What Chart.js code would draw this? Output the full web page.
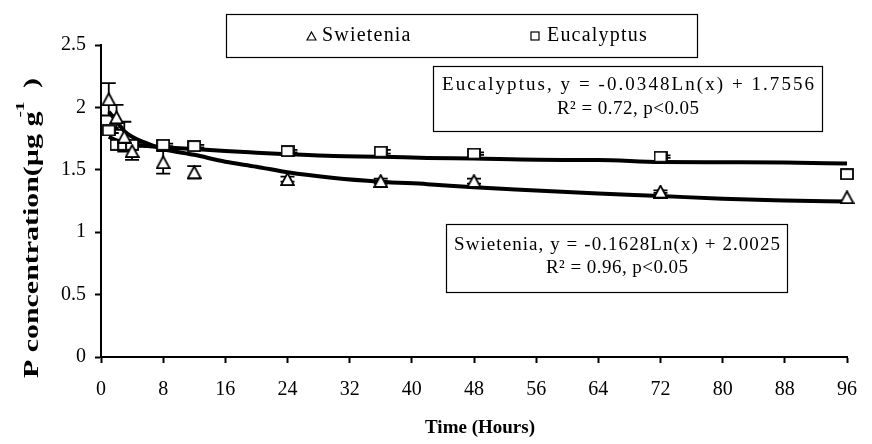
<!DOCTYPE html>
<html><head><meta charset="utf-8">
<script src="https://cdn.jsdelivr.net/npm/chart.js@4.4.0/dist/chart.umd.min.js"></script>
<style>html,body{margin:0;padding:0;background:#fff}#wrap{width:872px;height:444px}</style>
</head><body><div id="wrap"><canvas id="c" width="872" height="444"></canvas></div>
<script>
// ---- data ----
const hours = [1, 2, 3, 4, 8, 12, 24, 36, 48, 72, 96];
const swietenia = [2.065, 1.92, 1.765, 1.65, 1.56, 1.48, 1.425, 1.41, 1.41, 1.325, 1.28];
const swieteniaErr = [0.13, 0.10, 0.12, 0.07, 0.09, 0.05, 0.02, 0.02, 0.02, 0.01, 0];
const eucalyptus = [1.815, 1.70, 1.70, 1.70, 1.70, 1.69, 1.65, 1.645, 1.63, 1.605, 1.465];
const eucalyptusErr = [0.02, 0.015, 0.02, 0.015, 0.01, 0.01, 0.01, 0.015, 0.01, 0.01, 0];
const trendHours = [1, 2, 3, 4, 6, 8, 12, 16, 20, 24, 30, 36, 42, 48, 56, 64, 72, 80, 88, 96];
const swieteniaTrend = [1.965, 1.89, 1.81, 1.765, 1.71, 1.667, 1.62, 1.565, 1.525, 1.48, 1.435, 1.405, 1.385, 1.36, 1.335, 1.31, 1.29, 1.268, 1.255, 1.245];
const eucalyptusTrend = [1.765, 1.735, 1.715, 1.70, 1.69, 1.68, 1.667, 1.65, 1.637, 1.625, 1.61, 1.605, 1.595, 1.59, 1.58, 1.578, 1.562, 1.56, 1.558, 1.55];
const xTicks = [0, 8, 16, 24, 32, 40, 48, 56, 64, 72, 80, 88, 96];
const yTicks = [0, 0.5, 1, 1.5, 2, 2.5];
const yTickLabels = ['0', '0.5', '1', '1.5', '2', '2.5'];
const seriesNames = ['Swietenia', 'Eucalyptus'];
const eqText = {
  Eucalyptus: ['Eucalyptus, y = -0.0348Ln(x) + 1.7556', 'R\u00B2 = 0.72, p<0.05'],
  Swietenia: ['Swietenia, y = -0.1628Ln(x) + 2.0025', 'R\u00B2 = 0.96, p<0.05']
};
const xTitle = 'Time (Hours)';
const yTitleMain = 'P concentration(\u00B5g g';
const yTitleSup = '-1';
const yTitleEnd = ' )';

// ---- marker images ----
function triImg(w, h, lw) {
  const c = document.createElement('canvas'); c.width = w; c.height = h;
  const g = c.getContext('2d');
  g.beginPath(); g.moveTo(w / 2, 1); g.lineTo(w - 1, h - 1); g.lineTo(1, h - 1); g.closePath();
  g.fillStyle = '#fff'; g.fill(); g.lineWidth = lw; g.strokeStyle = '#000'; g.stroke();
  return c;
}
function sqImg(w, h, lw) {
  const c = document.createElement('canvas'); c.width = w; c.height = h;
  const g = c.getContext('2d');
  g.fillStyle = '#fff'; g.fillRect(1, 1, w - 2, h - 2);
  g.lineWidth = lw; g.strokeStyle = '#000'; g.strokeRect(1, 1, w - 2, h - 2);
  return c;
}
const TRI = triImg(15, 14, 1.8);
const SQ = sqImg(14, 12, 1.8);

const pts = (xs, ys) => xs.map((x, i) => ({ x: x, y: ys[i] }));
const SERIF = '"Liberation Serif", "Times New Roman", serif';

function fitText(ctx, text, x, y, width, align) {
  ctx.save();
  ctx.letterSpacing = '0px';
  const w0 = ctx.measureText(text).width;
  const n = Math.max(1, text.length - 1);
  const ls = Math.max(0, (width - w0) / n);
  ctx.letterSpacing = ls + 'px';
  ctx.textAlign = 'left';
  const w = w0 + ls * n;
  let sx = x;
  if (align === 'center') sx = x - w / 2;
  ctx.fillText(text, sx, y);
  ctx.restore();
}
function spacedText(ctx, text, x, y, ls) {
  ctx.save();
  ctx.letterSpacing = ls + 'px';
  ctx.textAlign = 'left';
  ctx.fillText(text, x, y);
  ctx.restore();
}

const errorBars = {
  id: 'errorBars',
  beforeDatasetsDraw(chart) {
    const ctx = chart.ctx, xs = chart.scales.x, ys = chart.scales.y;
    ctx.save(); ctx.strokeStyle = '#000'; ctx.lineWidth = 1.8;
    hours.forEach((h, i) => {
      const px = xs.getPixelForValue(h);
      if (swieteniaErr[i] > 0) {
        const t = ys.getPixelForValue(swietenia[i] + swieteniaErr[i]);
        const b = ys.getPixelForValue(swietenia[i] - swieteniaErr[i]);
        ctx.beginPath(); ctx.moveTo(px, t); ctx.lineTo(px, b);
        ctx.moveTo(px - 7, t); ctx.lineTo(px + 7, t);
        ctx.moveTo(px - 7, b); ctx.lineTo(px + 7, b); ctx.stroke();
      }
      if (eucalyptusErr[i] > 0) {
        const t = ys.getPixelForValue(eucalyptus[i] + eucalyptusErr[i]);
        const b = ys.getPixelForValue(eucalyptus[i] - eucalyptusErr[i]);
        ctx.beginPath(); ctx.moveTo(px, t); ctx.lineTo(px, b);
        ctx.moveTo(px - 4, t); ctx.lineTo(px + 10, t);
        ctx.moveTo(px - 4, b); ctx.lineTo(px + 10, b); ctx.stroke();
      }
    });
    ctx.restore();
  }
};

const decorations = {
  id: 'decorations',
  beforeDraw(chart) {
    const ctx = chart.ctx;
    ctx.save(); ctx.fillStyle = '#fff'; ctx.fillRect(0, 0, chart.width, chart.height); ctx.restore();
  },
  afterDraw(chart) {
    const ctx = chart.ctx;
    ctx.save();
    ctx.fillStyle = '#000'; ctx.strokeStyle = '#000';
    // legend box
    ctx.lineWidth = 1.2;
    ctx.strokeRect(226.5, 14.5, 471, 43);
    ctx.font = '20px ' + SERIF; ctx.textBaseline = 'middle';
    ctx.drawImage(triImg(11, 10, 1.2), 306, 31);
    spacedText(ctx, seriesNames[0], 322, 36, 1.2);
    ctx.drawImage(sqImg(10, 10, 1.2), 530, 31);
    spacedText(ctx, seriesNames[1], 547, 36, 1.2);
    // equation boxes
    ctx.strokeRect(433.5, 66.5, 389, 65);
    ctx.font = '19px ' + SERIF;
    fitText(ctx, eqText.Eucalyptus[0], 628, 85, 372, 'center');
    fitText(ctx, eqText.Eucalyptus[1], 628, 109, 142, 'center');
    ctx.strokeRect(446.5, 224.5, 341, 68);
    fitText(ctx, eqText.Swietenia[0], 617, 245, 326, 'center');
    fitText(ctx, eqText.Swietenia[1], 617, 268, 142, 'center');
    // x title
    ctx.font = 'bold 19px ' + SERIF; ctx.textAlign = 'center';
    ctx.fillText(xTitle, 480, 428);
    // y title
    ctx.translate(33, 228); ctx.rotate(-Math.PI / 2);
    ctx.textAlign = 'left';
    ctx.font = 'bold 20px ' + SERIF;
    const w1 = ctx.measureText(yTitleMain).width;
    ctx.font = 'bold 13px ' + SERIF;
    const w2 = ctx.measureText(yTitleSup).width;
    ctx.font = 'bold 20px ' + SERIF;
    const w3 = ctx.measureText(yTitleEnd).width;
    const total = w1 + w2 + w3;
    const sx = 300 / total;
    ctx.scale(sx, 1);
    const x0 = -total / 2;
    ctx.fillText(yTitleMain, x0, 0);
    ctx.font = 'bold 13px ' + SERIF;
    ctx.fillText(yTitleSup, x0 + w1 - 4, -12);
    ctx.font = 'bold 20px ' + SERIF;
    ctx.fillText(yTitleEnd, x0 + w1 + w2, 0);
    ctx.restore();
  }
};

new Chart(document.getElementById('c'), {
  type: 'scatter',
  data: {
    datasets: [
      { label: seriesNames[0], data: pts(hours, swietenia), pointStyle: TRI, showLine: false, clip: false, order: 0 },
      { label: seriesNames[1], data: pts(hours, eucalyptus), pointStyle: SQ, showLine: false, clip: false, order: 0 },
      { label: 'Eucalyptus trend', data: pts(trendHours, eucalyptusTrend), showLine: true, pointRadius: 0,
        borderColor: '#000', borderWidth: 4, cubicInterpolationMode: 'monotone', clip: false, order: 5 },
      { label: 'Swietenia trend', data: pts(trendHours, swieteniaTrend), showLine: true, pointRadius: 0,
        borderColor: '#000', borderWidth: 4, cubicInterpolationMode: 'monotone', clip: false, order: 5 }
    ]
  },
  options: {
    responsive: false, animation: false, devicePixelRatio: 1,
    layout: { padding: { top: 45, right: 14, left: 0, bottom: 0 } },
    plugins: { legend: { display: false }, tooltip: { enabled: false } },
    scales: {
      x: {
        type: 'linear', min: 0, max: 96,
        afterFit(s) { s.height = 87; },
        afterBuildTicks(s) { s.ticks = xTicks.map(v => ({ value: v })); },
        border: { color: '#000', width: 2 },
        grid: { drawOnChartArea: false, drawTicks: true, tickLength: 6, tickColor: '#000', tickWidth: 2 },
        ticks: { color: '#000', font: { family: SERIF, size: 20 }, padding: 15, maxRotation: 0, autoSkip: false,
          callback: v => String(v) }
      },
      y: {
        type: 'linear', min: 0, max: 2.5,
        afterFit(s) { s.width = 101; },
        afterBuildTicks(s) { s.ticks = yTicks.map(v => ({ value: v })); },
        border: { color: '#000', width: 2 },
        grid: { drawOnChartArea: false, drawTicks: true, tickLength: 6, tickColor: '#000', tickWidth: 2 },
        ticks: { color: '#000', font: { family: SERIF, size: 20 }, padding: 9, autoSkip: false,
          callback: v => yTickLabels[yTicks.indexOf(v)] ?? String(v) }
      }
    }
  },
  plugins: [errorBars, decorations]
});
</script></body></html>
